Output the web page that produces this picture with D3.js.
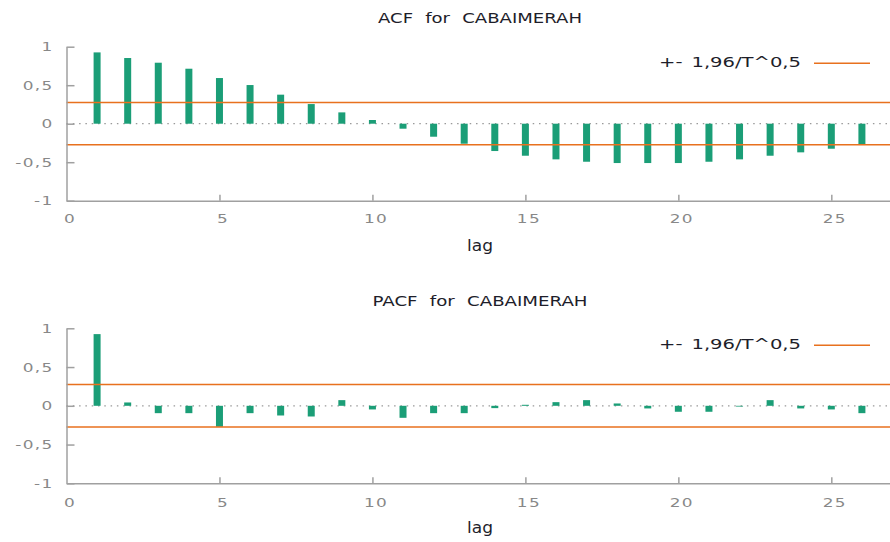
<!DOCTYPE html>
<html>
<head>
<meta charset="utf-8">
<script src="https://cdn.jsdelivr.net/npm/d3@7"></script>
<style>
  html, body { margin: 0; padding: 0; background: #fff; }
  svg { display: block; }
</style>
</head>
<body>
<svg id="chart" width="890" height="542"></svg>
<script>
// ---- data ----
const lags = d3.range(1, 27);
const acfValues = [0.926, 0.853, 0.792, 0.714, 0.593, 0.502, 0.377, 0.255, 0.147, 0.048,
                   -0.065, -0.169, -0.26, -0.355, -0.416, -0.463, -0.494, -0.511, -0.511, -0.511,
                   -0.494, -0.463, -0.416, -0.372, -0.325, -0.277];
const pacfValues = [0.925, 0.043, -0.095, -0.095, -0.271, -0.095, -0.125, -0.138, 0.073, -0.047,
                    -0.155, -0.095, -0.095, -0.03, 0.013, 0.047, 0.073, 0.03, -0.034, -0.077,
                    -0.077, -0.01, 0.073, -0.034, -0.047, -0.095];
const confBand = 0.2745;
const yTicks = [-1, -0.5, 0, 0.5, 1];
const yTickLabels = ["-1", "-0,5", "0", "0,5", "1"];
const xTicks = [0, 5, 10, 15, 20, 25];
const xTickLabels = ["0", "5", "10", "15", "20", "25"];
const titles = ["ACF for CABAIMERAH", "PACF for CABAIMERAH"];
const legendLabel = "+- 1,96/T^0,5";
const xLabel = "lag";

// ---- layout ----
const svg = d3.select("#chart");
const GREEN = "#1b9e77", ORANGE = "#e8711e", AXIS = "#a0a0a0", TICKTXT = "#888888", DARK = "#1e1e2a";
const FONT = "DejaVu Sans, Verdana, sans-serif";
const SX = 1.3;

const panels = [
  { title: titles[0], titleW: 204, values: acfValues, top: 46.7, bottom: 200.7, titleY: 22.7, legendY: 63.3, lagY: 250.5, tickLabelY: 223 },
  { title: titles[1], titleW: 215, values: pacfValues, top: 328.3, bottom: 483.3, titleY: 306, legendY: 345.3, lagY: 533, tickLabelY: 506.5 }
];

const x = d3.scaleLinear().domain([0, 27]).range([66.5, 892.5]);

// stretched text (the reference glyphs are wider than they are tall)
function sText(g, px, py, str, anchor, size, color) {
  return g.append("text")
    .attr("transform", `translate(${px},${py}) scale(${SX},1)`)
    .attr("text-anchor", anchor)
    .attr("font-family", FONT)
    .attr("font-size", size)
    .attr("fill", color)
    .text(str);
}
// text fitted to a given width
function fText(g, px, py, str, anchor, size, color, w) {
  return g.append("text")
    .attr("x", px).attr("y", py)
    .attr("text-anchor", anchor)
    .attr("font-family", FONT)
    .attr("font-size", size)
    .attr("fill", color)
    .attr("textLength", w)
    .attr("lengthAdjust", "spacingAndGlyphs")
    .text(str);
}

panels.forEach(p => {
  const g = svg.append("g");
  const y = d3.scaleLinear().domain([-1, 1]).range([p.bottom, p.top]);

  // title
  fText(g, 480, p.titleY, p.title, "middle", 14, DARK, p.titleW).attr("word-spacing", 5);

  // zero line (dotted)
  g.append("line")
    .attr("x1", x(0)).attr("x2", 892)
    .attr("y1", y(0)).attr("y2", y(0))
    .attr("stroke", "#999").attr("stroke-width", 1.2)
    .attr("stroke-dasharray", "1.5,4.8");

  // bars
  g.selectAll("rect.bar").data(lags).join("rect")
    .attr("class", "bar")
    .attr("x", d => x(d) - 3.5)
    .attr("width", 7)
    .attr("y", (d, i) => y(Math.max(0, p.values[i])))
    .attr("height", (d, i) => Math.abs(y(p.values[i]) - y(0)))
    .attr("fill", GREEN);

  // confidence lines
  [confBand, -confBand].forEach(c => {
    g.append("line")
      .attr("x1", x(0)).attr("x2", 892)
      .attr("y1", y(c)).attr("y2", y(c))
      .attr("stroke", ORANGE).attr("stroke-width", 1.5);
  });

  // y axis
  const ya = g.append("g").attr("transform", `translate(${x(0)},0)`)
    .call(d3.axisLeft(y).tickValues(yTicks).tickSizeInner(-8).tickSizeOuter(0).tickFormat(""));
  ya.select(".domain").attr("stroke", AXIS).attr("stroke-width", 1.5);
  ya.selectAll(".tick line").attr("stroke", AXIS).attr("stroke-width", 1.5);
  yTicks.forEach((t, i) => {
    sText(g, 53.5, y(t), yTickLabels[i], "end", 13, TICKTXT)
      .attr("dy", "0.36em").attr("letter-spacing", 1);
  });

  // x axis
  const xa = g.append("g").attr("transform", `translate(0,${p.bottom})`)
    .call(d3.axisBottom(x).tickValues(xTicks).tickSizeInner(-6).tickSizeOuter(0).tickFormat(""));
  xa.select(".domain").attr("stroke", AXIS).attr("stroke-width", 1.5);
  xa.selectAll(".tick line").attr("stroke", AXIS).attr("stroke-width", 1.5);
  xa.selectAll(".tick").filter(d => d === 0).select("line").remove();
  xTicks.forEach((t, i) => {
    sText(g, x(t) + 3.5, p.tickLabelY, xTickLabels[i], "middle", 13, TICKTXT).attr("letter-spacing", 1);
  });

  // x label
  fText(g, 480, p.lagY, xLabel, "middle", 15, DARK, 26);

  // legend
  fText(g, 659, p.legendY + 4, legendLabel, "start", 14, DARK, 142).attr("word-spacing", 2);
  g.append("line")
    .attr("x1", 814).attr("x2", 870)
    .attr("y1", p.legendY).attr("y2", p.legendY)
    .attr("stroke", ORANGE).attr("stroke-width", 1.5);
});
</script>
</body>
</html>
